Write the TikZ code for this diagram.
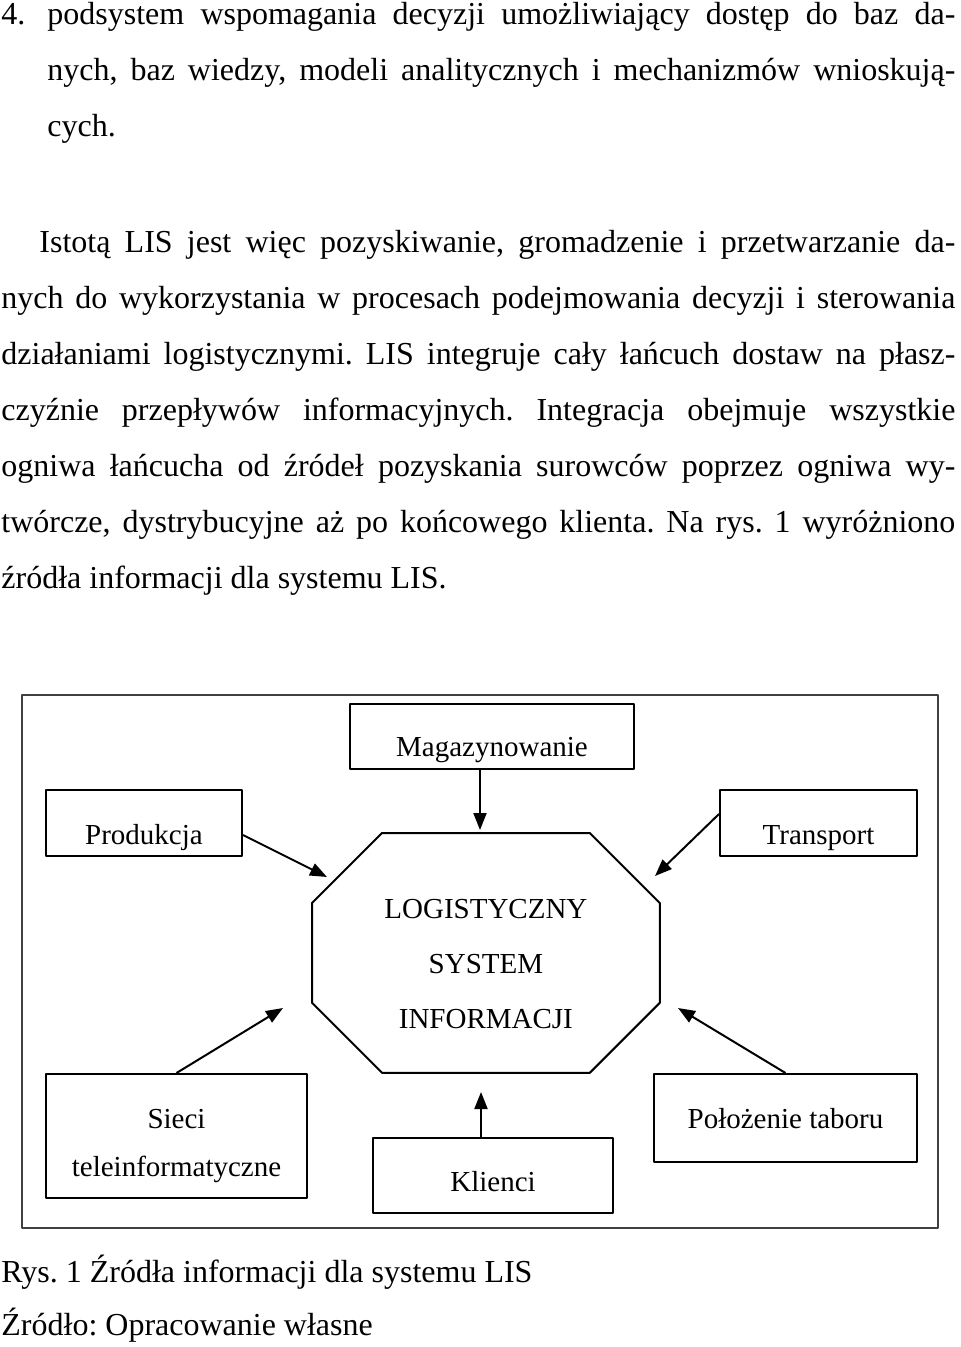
\documentclass[tikz,border=0pt]{standalone}
\usepackage{fontspec}
\setmainfont{Liberation Serif}
\frenchspacing
\usetikzlibrary{arrows.meta}
\tikzset{
  srcbox/.style={draw,line width=1pt,inner sep=0pt,anchor=north west,
    font=\fontsize{14.5}{24}\selectfont},
  bodytext/.style={anchor=base west,inner sep=0pt,
    font=\fontsize{16}{28}\selectfont}
}
\begin{document}
\begin{tikzpicture}[x=0.5pt,y=-0.5pt,line join=round,>={Triangle[length=8.5pt,width=6.5pt]}]
  \useasboundingbox (0,0) rectangle (960,1347);
  % tekst nad rysunkiem
  \node[bodytext] (pkt4) at (1,25) {\begin{minipage}[t]{477pt}
    \hyphenpenalty=10000 \tolerance=10000 \leftskip=23pt
    \noindent\llap{\makebox[23pt][l]{4.}}podsystem wspomagania decyzji umożliwiający dostęp do baz da-\linebreak
    nych, baz wiedzy, modeli analitycznych i mechanizmów wnioskują-\linebreak
    cych.\end{minipage}};
  \node[bodytext] (istota) at (1,253) {\begin{minipage}[t]{477pt}
    \hyphenpenalty=10000 \tolerance=10000
    \noindent\hspace*{19pt}Istotą LIS jest więc pozyskiwanie, gromadzenie i przetwarzanie da-\linebreak
    nych do wykorzystania w procesach podejmowania decyzji i sterowania\linebreak
    działaniami logistycznymi. LIS integruje cały łańcuch dostaw na płasz-\linebreak
    czyźnie przepływów informacyjnych. Integracja obejmuje wszystkie\linebreak
    ogniwa łańcucha od źródeł pozyskania surowców poprzez ogniwa wy-\linebreak
    twórcze, dystrybucyjne aż po końcowego klienta. Na rys. 1 wyróżniono\linebreak
    źródła informacji dla systemu LIS.\end{minipage}};
  % rysunek
  \draw[line width=1pt,black!75] (22,695) rectangle (938,1228);
  \node[srcbox,minimum width=142pt,text height=26pt,text depth=6.5pt] (mag) at (349,703) {Magazynowanie};
  \node[srcbox,minimum width=98pt,text height=27pt,text depth=6pt] (prod) at (45,789) {Produkcja};
  \node[srcbox,minimum width=98.5pt,text height=27pt,text depth=6pt] (trans) at (719,789) {Transport};
  \node[srcbox,text width=130.5pt,align=center,text height=27pt,text depth=35pt] (sieci) at (45,1073) {Sieci\\teleinformatyczne};
  \node[srcbox,minimum width=120pt,text height=26.5pt,text depth=11pt] (kli) at (372,1137) {Klienci};
  \node[srcbox,minimum width=131.5pt,text height=27pt,text depth=17pt] (pol) at (653,1073) {Położenie taboru};
  \node[anchor=north west,inner sep=0pt,text width=173.5pt,align=center,text height=42.5pt,text depth=77pt,
    font=\fontsize{14.5}{27.5}\selectfont] (lis) at (312,833) {LOGISTYCZNY\\SYSTEM\\INFORMACJI};
  \draw[line width=1pt] ([xshift=35pt]lis.north west) -- ([xshift=-35pt]lis.north east)
    -- ([yshift=-35pt]lis.north east) -- ([yshift=35pt]lis.south east)
    -- ([xshift=-35pt]lis.south east) -- ([xshift=35pt]lis.south west)
    -- ([yshift=35pt]lis.south west) -- ([yshift=-35pt]lis.north west) -- cycle;
  \coordinate (magtip) at (480,830);
  \coordinate (prodtip) at (327,877);
  \coordinate (transtip) at (655,876);
  \coordinate (siecitip) at (283,1008);
  \coordinate (poltip) at (678,1008);
  \coordinate (klitip) at (481,1092);
  \draw[->,line width=1pt] (mag.south -| magtip) -- (magtip);
  \draw[->,line width=1pt] ([yshift=-6pt]prod.east) -- (prodtip);
  \draw[->,line width=1pt] ([yshift=4.5pt]trans.west) -- (transtip);
  \draw[->,line width=1pt] (sieci.north) -- (siecitip);
  \draw[->,line width=1pt] (pol.north) -- (poltip);
  \draw[->,line width=1pt] (kli.north -| klitip) -- (klitip);
  % podpis
  \node[anchor=base west,inner sep=0pt,font=\fontsize{16}{28}\selectfont] (rys) at (1,1282) {Rys. 1 Źródła informacji dla systemu LIS};
  \node[anchor=base west,inner sep=0pt,font=\fontsize{16}{28}\selectfont] (zrodlo) at (1,1335) {Źródło: Opracowanie własne};
\end{tikzpicture}
\end{document}
